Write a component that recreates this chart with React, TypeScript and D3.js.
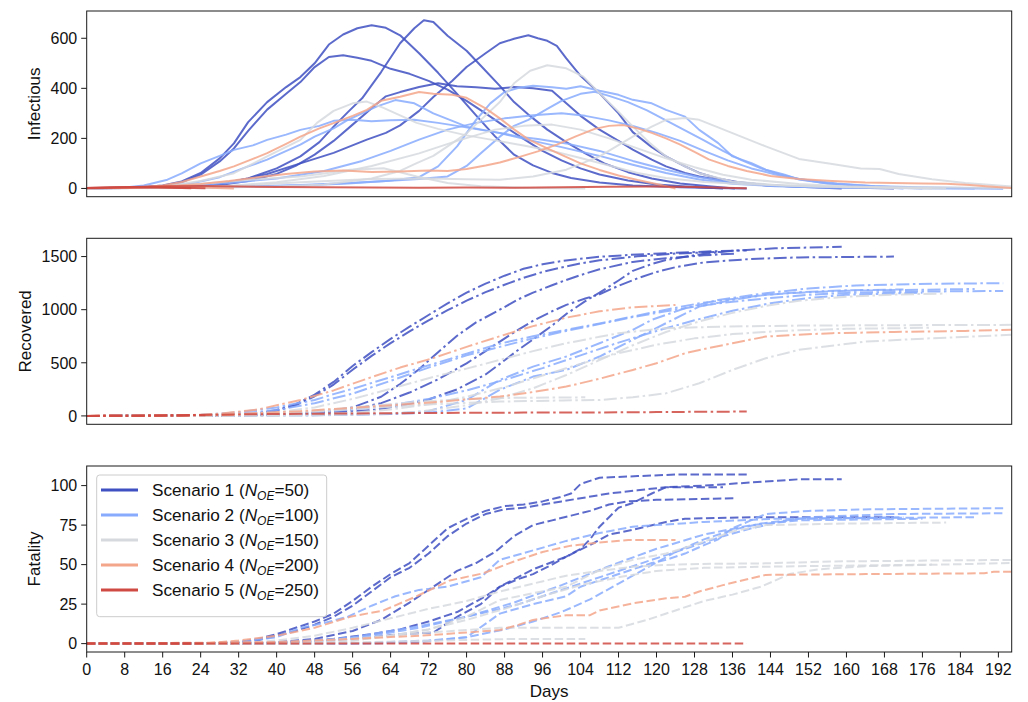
import React from 'react';
import * as d3 from 'd3';

type Pt = [number, number];
type Run = Pt[];

// ---------- categories / labels ----------
const scenarioNames = ['Scenario 1', 'Scenario 2', 'Scenario 3', 'Scenario 4', 'Scenario 5'];
const noeValues = [50, 100, 150, 200, 250];
const scenarioColors = ['#3f51c2', '#88abfd', '#d6d9de', '#f4a68b', '#cf4a42'];
const xTickValues = [0, 8, 16, 24, 32, 40, 48, 56, 64, 72, 80, 88, 96, 104, 112, 120, 128, 136, 144, 152, 160, 168, 176, 184, 192];
const infTicks = [0, 200, 400, 600];
const recTicks = [0, 500, 1000, 1500];
const fatTicks = [0, 25, 50, 75, 100];

// ---------- Infectious ----------
const infectiousS1: Run[] = [
  [[0,1],[8,3],[12,6],[16,12],[20,28],[24,62],[28,120],[31,180],[34,265],[38,345],[42,405],[45,445],[48,500],[51,575],[54,615],[57,640],[60,652],[63,642],[66,612],[70,540],[74,462],[78,378],[82,292],[86,208],[90,135],[94,92],[98,62],[102,42],[108,24],[115,12],[125,5],[132,2],[139,0]],
  [[0,1],[8,3],[12,5],[16,10],[20,24],[24,55],[28,108],[31,160],[34,230],[38,315],[42,378],[45,425],[48,485],[51,525],[54,532],[57,522],[60,510],[64,478],[68,458],[72,430],[76,395],[80,350],[84,300],[88,248],[92,198],[96,150],[100,112],[104,80],[108,56],[114,32],[120,16],[127,7],[134,0]],
  [[0,1],[10,2],[16,4],[22,8],[28,18],[34,40],[40,80],[45,128],[49,185],[52,247],[55,305],[58,360],[62,465],[66,580],[69,640],[71,672],[73,665],[76,610],[80,550],[83,490],[87,410],[90,345],[93,295],[97,235],[101,185],[105,140],[109,100],[114,65],[119,40],[125,20],[131,9],[136.5,0]],
  [[0,1],[12,3],[20,6],[28,18],[34,40],[38,58],[45,100],[52,142],[59,195],[63,222],[66,252],[70,310],[73,365],[77,430],[80,485],[84,540],[87,580],[90,598],[93,612],[95,600],[97,590],[99,570],[101,520],[104,450],[108,380],[112,300],[115,225],[119,165],[122,128],[126,88],[129,62],[133,40],[137,26],[143,14],[150,7],[159,0]],
  [[0,1],[12,3],[20,6],[28,14],[34,30],[40,58],[44,90],[48,135],[52,190],[56,255],[60,320],[63,368],[66,385],[70,405],[74,420],[78,408],[82,404],[86,398],[90,405],[94,400],[98,390],[101,340],[104,290],[108,235],[112,190],[115,155],[119,115],[122,88],[126,62],[129,48],[136,24],[143,12],[150,8],[160,4],[170,0]],
];
const infectiousS2: Run[] = [
  [[0,1],[8,4],[12,12],[17,35],[20,60],[24,100],[28,130],[31,154],[35,172],[38,194],[42,215],[45,234],[49,250],[52,270],[56,274],[60,268],[64,272],[69,274],[74,262],[78,250],[83,234],[87,222],[91,207],[95,198],[101,180],[108,150],[115,110],[122,75],[129,45],[136,25],[145,11],[155,5],[170,2],[187,0]],
  [[0,1],[10,3],[16,8],[22,20],[28,45],[34,88],[38,115],[41,141],[45,175],[48,207],[52,240],[55,274],[58,300],[61,327],[65,353],[69,340],[73,300],[77,270],[80,247],[84,232],[87,221],[93,194],[100,165],[108,130],[115,95],[122,62],[129,36],[136,19],[145,9],[155,4],[170,2],[193,0]],
  [[0,1],[16,3],[30,6],[45,12],[55,20],[63,30],[70,45],[74,88],[78,168],[82,274],[85,340],[88,385],[91,402],[94,410],[98,404],[101,398],[104,408],[108,390],[112,374],[115,354],[119,340],[122,314],[126,287],[129,234],[133,181],[136,128],[140,101],[143,75],[147,55],[150,36],[156,20],[165,10],[175,5],[185,2],[193,0]],
  [[0,1],[16,3],[30,6],[45,14],[55,22],[63,30],[70,38],[76,48],[80,90],[83,141],[87,207],[90,250],[93,274],[97,318],[100,350],[104,378],[107,386],[110,370],[114,345],[118,312],[122,272],[126,232],[130,192],[134,150],[138,112],[142,80],[146,56],[150,38],[156,20],[163,9],[172,0]],
  [[0,1],[12,4],[20,10],[30,22],[40,40],[50,70],[58,110],[64,150],[70,195],[76,235],[82,262],[88,280],[94,292],[100,300],[105,290],[110,272],[115,250],[120,222],[125,190],[130,150],[135,112],[140,80],[145,56],[150,38],[158,20],[166,9],[176,0]],
];
const infectiousS3: Run[] = [
  [[0,1],[10,3],[16,8],[24,30],[31,61],[38,128],[45,194],[48.5,262],[52,310],[56,340],[59,347],[62.5,322],[66,292],[69.5,262],[74,238],[80,212],[86,192],[92,172],[98,150],[104,122],[110,92],[116,62],[122,42],[130,26],[140,16],[150,10],[165,6],[180,4],[194.8,2]],
  [[0,1],[15,2],[30,4],[40,8],[50,16],[60,40],[66,70],[69.5,101],[73,130],[76,168],[80,220],[83,274],[87,345],[90,420],[93.4,470],[97,492],[101,480],[104.6,447],[108,380],[111.6,314],[115,248],[118.6,181],[122,128],[126,88],[129,61],[136,28],[145,14],[155,7],[168,3],[181,0]],
  [[0,1],[16,3],[30,10],[45,25],[60,38],[72,40],[80,37],[87,35],[94,48],[101,75],[108,128],[115,207],[119,247],[122,274],[126,281],[129,274],[136,221],[143,168],[150,118],[157,98],[163,80],[167,78],[171,58],[178,37],[185,22],[194.8,8]],
  [[0,1],[20,3],[30,10],[40,25],[50,50],[60,90],[70,140],[78,190],[86,235],[92,250],[98,255],[104,235],[110,200],[116,160],[122,120],[128,85],[134,55],[140,35],[150,18],[160,8],[170,3],[178,0]],
  [[0,1],[10,3],[20,12],[28,25],[34.4,35],[40,42],[45,48],[50,60],[55.5,75],[62.5,81],[66,65],[69.5,48],[76,22],[83,9],[93,2],[105,0]],
];
const infectiousS4: Run[] = [
  [[0,1],[8,3],[12,6],[16,12],[20,26],[24,48],[28,70],[31,88],[35,118],[38,141],[42,178],[45,207],[49,240],[52,261],[56,290],[59,314],[62,350],[66,366],[70,385],[73,378],[77,374],[80,362],[84,320],[87,280],[90,236],[93,196],[97,160],[100,134],[104,100],[108,74],[112,52],[116,34],[120,18],[124,0]],
  [[0,1],[8,2],[16,8],[24,18],[30,30],[36,45],[42,58],[48,68],[54,72],[60,66],[66,68],[72,72],[76,70],[80,78],[84,92],[87,104],[91,125],[95,148],[99,175],[103,208],[107,238],[110,250],[113,253],[116,240],[119,222],[122,200],[125,175],[128,146],[131,116],[135,90],[139,70],[144,50],[150,38],[157,30],[164,24],[170,22],[176,20],[181,19],[186,14],[190,8],[194.8,2]],
  [[0,1],[6,3],[12,5],[18,6],[24,4],[31,0]],
];
const infectiousS5: Run[] = [
  [[0,2],[5,4],[10,6],[15,5],[20,3],[25,1]],
  [[0,2],[6,4],[12,5],[18,3],[22,1]],
  [[0,2],[8,5],[16,9],[24,10],[32,8],[40,6],[50,5],[60,4],[70,3],[80,4],[90,3],[100,5],[110,7],[120,8],[128,6],[134,3],[139,1]],
];

// ---------- Recovered ----------
const recoveredS1: Run[] = [
  [[0,0],[16,1],[24,4],[32,12],[36,25],[40,55],[44,110],[48,200],[52,320],[56,470],[60,600],[64,725],[68,840],[72,950],[76,1060],[80,1160],[84,1245],[88,1320],[92,1385],[96,1428],[100,1458],[104,1480],[108,1498],[116,1520],[124,1535],[132,1550],[139,1558]],
  [[0,0],[16,1],[24,3],[32,10],[36,22],[40,48],[44,100],[48,185],[52,295],[56,435],[60,565],[64,685],[68,795],[72,900],[76,995],[80,1085],[84,1165],[88,1235],[92,1300],[96,1355],[100,1398],[104,1435],[108,1465],[116,1502],[124,1528],[134,1545]],
  [[0,0],[24,1],[32,4],[40,10],[48,25],[56,80],[62,180],[66,300],[70,440],[74,600],[78,755],[82,880],[87,1000],[91,1100],[94,1160],[98,1230],[101,1280],[105,1340],[108,1380],[115,1450],[122,1485],[130,1512],[136.5,1528]],
  [[0,0],[24,1],[32,5],[40,12],[50,25],[60,55],[66,95],[72,155],[78,250],[84,390],[87,490],[91,625],[94,720],[98,850],[101,960],[105,1080],[108,1160],[112,1275],[115,1365],[119,1430],[122,1468],[129,1520],[136,1555],[145,1578],[159,1592]],
  [[0,0],[24,1],[32,5],[40,12],[48,25],[56,60],[62,120],[68,220],[74,345],[80,495],[84,610],[87,700],[91,815],[94,895],[98,985],[101,1045],[105,1105],[108,1145],[112,1225],[116,1295],[120,1355],[124,1400],[130,1445],[140,1478],[150,1492],[170,1500]],
];
const recoveredS2: Run[] = [
  [[0,0],[12,1],[20,5],[24,10],[32,35],[40,80],[48,150],[52,205],[56,255],[64,365],[73,490],[80,585],[87,680],[94,750],[101,810],[108,870],[115,936],[122,1000],[129,1060],[136,1100],[143,1140],[150,1160],[160,1178],[187,1195]],
  [[0,0],[16,1],[24,5],[32,20],[40,55],[48,120],[56,210],[64,330],[72,455],[80,570],[87,650],[94,730],[101,800],[108,865],[115,930],[122,985],[129,1035],[136,1075],[144,1110],[152,1140],[160,1158],[175,1170],[193,1177]],
  [[0,0],[30,2],[50,8],[64,20],[72,45],[80,150],[87,339],[94,464],[101,559],[108,684],[115,810],[119,904],[126,1014],[133,1092],[143,1155],[152,1200],[162,1228],[175,1242],[193,1250]],
  [[0,0],[30,2],[50,8],[64,18],[72,30],[80,70],[87,245],[94,370],[101,433],[108,559],[115,716],[122,873],[129,1029],[136,1092],[143,1140],[150,1165],[160,1182],[172,1190]],
  [[0,0],[20,2],[32,8],[44,25],[56,60],[64,100],[72,160],[80,240],[88,340],[96,450],[104,570],[112,690],[120,800],[128,900],[136,990],[144,1060],[152,1110],[160,1140],[176,1160]],
];
const recoveredS3: Run[] = [
  [[0,0],[16,1],[24,5],[32,15],[40,35],[48,80],[56,160],[64,255],[72,355],[80,445],[87,527],[94,610],[101,684],[108,745],[112,778],[122,826],[135,842],[150,850],[170,854],[194.8,857]],
  [[0,0],[40,2],[50,6],[60,15],[70,40],[80,100],[87,165],[94,260],[101,385],[108,525],[115,665],[122,790],[129,890],[136,970],[143,1035],[150,1085],[160,1122],[170,1142],[181,1152]],
  [[0,0],[20,2],[30,8],[40,22],[50,45],[60,75],[72,108],[87,135],[100,145],[108,150],[115,175],[122,213],[129,307],[136,433],[143,543],[150,622],[164,700],[178,731],[194.8,763]],
  [[0,0],[30,2],[40,6],[56,30],[64,60],[72,110],[80,180],[88,270],[96,380],[104,490],[112,590],[120,670],[128,730],[136,770],[146,800],[160,820],[178,830]],
  [[0,0],[20,2],[30,10],[40,28],[50,55],[60,95],[70,135],[80,158],[90,170],[105,175]],
];
const recoveredS4: Run[] = [
  [[0,0],[12,1],[20,5],[28,20],[36,60],[45,150],[52,240],[59,350],[66,455],[73,545],[80,650],[87,750],[94,845],[101,925],[108,985],[115,1022],[124,1045]],
  [[0,0],[16,2],[30,15],[45,45],[60,88],[73,128],[87,182],[94,225],[101,276],[108,350],[115,433],[120,496],[126,590],[131,640],[136,684],[143,747],[150,765],[157,779],[170,790],[185,800],[194.8,810]],
  [[0,0],[10,2],[20,5],[31,8]],
];
const recoveredS5: Run[] = [
  [[0,0],[10,2],[20,5],[25,6]],
  [[0,0],[10,1],[22,4]],
  [[0,0],[8,2],[16,5],[24,9],[32,14],[40,18],[52,22],[66,26],[80,29],[92,31],[108,33],[120,36],[130,39],[139,41]],
];

// ---------- Fatality ----------
const fatalityS1: Run[] = [
  [[0,0],[24,0],[28,0.5],[32,1],[36,3],[40,6],[44,10],[48,14],[52,19],[56,27],[60,36],[64,44],[68,51],[72,62],[76,73],[80,79],[84,84],[88,87],[92,88],[96,90],[100,93],[102,95],[104,101],[108,105],[116,106],[124,107],[139,107]],
  [[0,0],[24,0],[32,1],[36,2],[40,5],[44,8],[48,12],[52,17],[56,24],[60,33],[64,42],[68,48],[72,57],[76,68],[80,76],[84,82],[88,85],[92,86],[96,88],[100,90],[104,92],[110,95],[116,97],[122,99],[134,99]],
  [[0,0],[32,0],[40,1],[48,3],[56,8],[62,15],[68,26],[74,38],[78,46],[82,51],[86,58],[90,68],[94,75],[98,78],[102,81],[106,84],[110,88],[114,90],[120,91],[136.5,92]],
  [[0,0],[36,0],[44,1],[52,3],[60,6],[66,9],[72,14],[78,20],[84,30],[87,36],[91,41],[94,44],[98,50],[101,55],[104,60],[106,66],[108,74],[110,80],[112,86],[115,89],[119,95],[122,99],[130,100],[140,102],[150,104],[159,104]],
  [[0,0],[36,0],[44,1],[52,2],[60,4],[66,6],[73,7],[78,17],[83,25],[87,36],[94,47],[101,55],[107,64],[110,69],[115,72],[122,77],[126,79],[140,80],[170,80]],
];
const fatalityS2: Run[] = [
  [[0,0],[28,0],[32,1],[40,4],[45,10],[50,13],[55,17],[60,24],[65,30],[70,34],[76,36],[83,42],[87,53],[94,59],[101,65],[108,70],[115,74],[120,75],[130,77],[145,79],[187,80]],
  [[0,0],[36,0],[40,1],[48,2],[56,4],[64,8],[70,11],[80,17],[87,22],[91,25],[98,32],[104,38],[110,44],[116,50],[122,56],[128,62],[134,68],[140,73],[146,77],[152,80],[170,82],[193,82.5]],
  [[0,0],[56,0],[64,1],[72,2],[80,4],[87,19],[94,25],[101,30],[104,36],[108,40],[115,47],[119,51],[122,53],[126,57],[129,61],[133,66],[136,73],[143,82],[152,84],[165,85],[193,85.7]],
  [[0,0],[60,0],[70,1],[80,4],[88,9],[94,14],[100,20],[106,28],[112,38],[118,48],[124,58],[130,66],[136,72],[142,76],[150,79],[172,80]],
  [[0,0],[40,0],[50,2],[60,5],[70,10],[80,17],[90,26],[100,37],[110,49],[120,60],[130,69],[140,75],[150,78],[176,79]],
];
const fatalityS3: Run[] = [
  [[0,0],[32,0],[40,2],[48,5],[56,10],[64,16],[72,22],[80,27],[87,33],[94,38],[101,43],[108,46],[115,48.7],[122,49.8],[129,50.4],[143,50.8],[157,52],[194.8,53]],
  [[0,0],[48,0],[56,2],[64,5],[72,9],[80,17],[87,27.6],[94,31.9],[101,36],[108,46.6],[115,53],[122,57],[129,63.5],[136,71],[143,75],[160,76],[181,76.6]],
  [[0,0],[40,0],[50,2],[60,4],[72,7],[87,10],[100,10],[112,10],[118,15],[124,21],[130,27],[136,31],[142,36],[148,44],[154,47],[164,49],[180,50],[194.8,51]],
  [[0,0],[44,0],[56,2],[64,5],[72,9],[80,15],[88,22],[96,30],[104,37],[112,42],[120,46],[130,48],[150,49],[178,50]],
  [[0,0],[50,0],[60,1],[75,2],[90,3],[105,3]],
];
const fatalityS4: Run[] = [
  [[0,0],[24,0],[32,2],[40,5],[48,10],[55.5,17],[62.5,21],[69.5,30],[76.5,40],[83.5,44.5],[90,52],[96,58],[102,62],[108,64],[114,65.6],[124,65.6]],
  [[0,0],[40,1],[56,3],[70,5],[80,7],[87,8.6],[91,12],[94,15],[101,18],[106,18],[108,21],[115,25.5],[122,28.7],[126,29.7],[129,33],[134,37],[138,40],[143,43.5],[164,44],[189,44.5],[191,45.5],[194.8,45.5]],
  [[0,0],[31,0]],
];
const fatalityS5: Run[] = [
  [[0,0],[25,0]],
  [[0,0],[22,0]],
  [[0,0],[139,0]],
];

// ---------- layout ----------
const W = 1028, H = 702;
const X0 = 86.7, X1 = 1011.7;
const xDomain: [number, number] = [0, 194.8];
const FONT = '"Liberation Sans", Arial, Helvetica, sans-serif';

const panels = [
  { label: 'Infectious', labelX: 34, data: [infectiousS1, infectiousS2, infectiousS3, infectiousS4, infectiousS5], domain: [-33, 709], ticks: infTicks, top: 11, bottom: 196.7, dash: 'none', showX: false },
  { label: 'Recovered', labelX: 25, data: [recoveredS1, recoveredS2, recoveredS3, recoveredS4, recoveredS5], domain: [-79, 1672], ticks: recTicks, top: 238.3, bottom: 424.3, dash: '13,3.5,2.5,3.5', showX: false },
  { label: 'Fatality', labelX: 34, data: [fatalityS1, fatalityS2, fatalityS3, fatalityS4, fatalityS5], domain: [-5.3, 112.4], ticks: fatTicks, top: 466, bottom: 652, dash: '8.5,3.5', showX: true },
];

export default function App() {
  const x = d3.scaleLinear().domain(xDomain).range([X0, X1]);
  return (
    <svg width={W} height={H} style={{ position: 'absolute', left: 0, top: 0, background: '#fff' }} fontFamily={FONT}>
      <defs>
        {panels.map((p, i) => (
          <clipPath id={`clip${i}`} key={i}>
            <rect x={X0} y={p.top} width={X1 - X0} height={p.bottom - p.top} />
          </clipPath>
        ))}
      </defs>
      {panels.map((p, pi) => {
        const y = d3.scaleLinear().domain(p.domain).range([p.bottom, p.top]);
        const line = d3.line<Pt>().x(d => x(d[0])).y(d => y(d[1])).curve(d3.curveLinear);
        const mid = (p.top + p.bottom) / 2;
        return (
          <g key={pi}>
            <g clipPath={`url(#clip${pi})`}>
              {p.data.map((runs, si) =>
                runs.map((run, ri) => (
                  <path key={`${si}-${ri}`} d={line(run) || ''} fill="none" stroke={scenarioColors[si]}
                    strokeOpacity={0.85} strokeWidth={2} strokeDasharray={p.dash === 'none' ? undefined : p.dash}
                    strokeLinejoin="round" />
                ))
              )}
            </g>
            <rect x={X0} y={p.top} width={X1 - X0} height={p.bottom - p.top} fill="none" stroke="#1a1a1a" strokeWidth={1} />
            {p.ticks.map(t => (
              <g key={t}>
                <line x1={X0 - 5.5} x2={X0} y1={y(t)} y2={y(t)} stroke="#1a1a1a" strokeWidth={1} />
                <text x={X0 - 9.5} y={y(t)} dy="0.36em" textAnchor="end" fontSize={16} fill="#111">{t}</text>
              </g>
            ))}
            <text transform={`translate(${p.labelX},${mid}) rotate(-90)`} textAnchor="middle" dy="0.36em" fontSize={17} fill="#111">{p.label}</text>
            {p.showX && xTickValues.map(t => (
              <g key={`x${t}`}>
                <line x1={x(t)} x2={x(t)} y1={p.bottom} y2={p.bottom + 5.5} stroke="#1a1a1a" strokeWidth={1} />
                <text x={x(t)} y={675} textAnchor="middle" fontSize={16} fill="#111">{t}</text>
              </g>
            ))}
            {p.showX && (
              <text x={(X0 + X1) / 2} y={696.5} textAnchor="middle" fontSize={17} fill="#111">Days</text>
            )}
          </g>
        );
      })}
      {/* legend */}
      <g>
        <rect x={96.7} y={475} width={230} height={141.7} rx={3} fill="#fff" fillOpacity={0.8} stroke="#cccccc" strokeWidth={1} />
        {scenarioNames.map((name, i) => {
          const cy = 490 + i * 25;
          return (
            <g key={name}>
              <line x1={101} x2={138} y1={cy} y2={cy} stroke={scenarioColors[i]} strokeWidth={2.8} />
              <text x={152} y={cy} dy="0.36em" fontSize={17.2} fill="#111">
                {name} (<tspan fontStyle="italic">N</tspan>
                <tspan fontStyle="italic" fontSize={12} dy={3.5}>OE</tspan>
                <tspan dy={-3.5}>={noeValues[i]})</tspan>
              </text>
            </g>
          );
        })}
      </g>
    </svg>
  );
}
